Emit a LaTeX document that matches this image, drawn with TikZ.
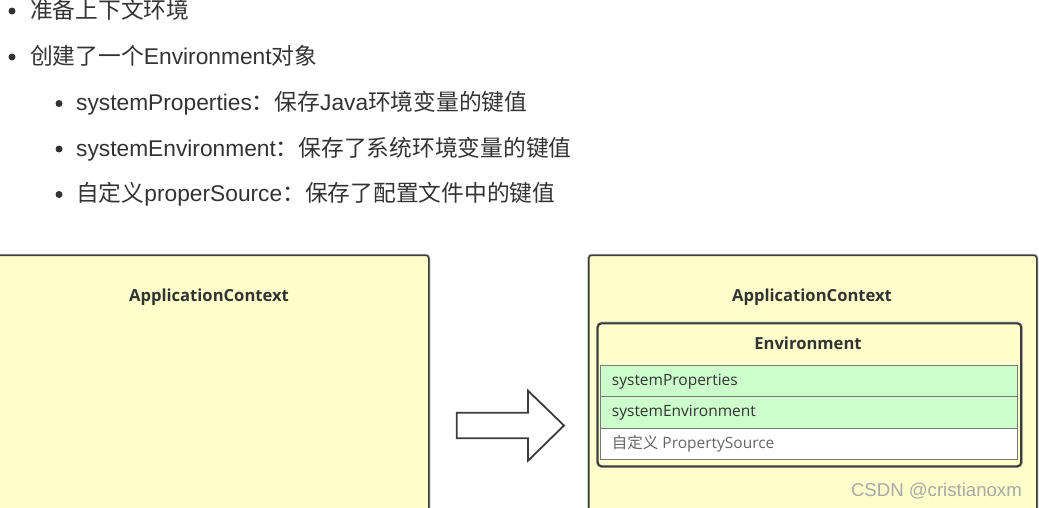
\documentclass[tikz,border=0pt]{standalone}
\usepackage{fontspec}
\setmainfont{Liberation Sans}
\newfontfamily\cjk{Noto Sans CJK SC}
\newfontfamily\dgm{Open Sans}
\usetikzlibrary{shapes.arrows}
\definecolor{txt}{HTML}{333333}
\definecolor{ctxfill}{HTML}{FFFFCC}
\definecolor{rowgreen}{HTML}{CCFFCC}
\definecolor{boxborder}{HTML}{3C3C3C}
\definecolor{rowborder}{HTML}{7A7A7A}
\definecolor{mark}{HTML}{A8A8A8}
\begin{document}
\begin{tikzpicture}[x=1pt,y=-1pt,
  btxt/.style={anchor=base west, inner sep=0pt, text=txt, font=\fontsize{22.75}{27}\selectfont},
  dot/.style={circle, fill=txt, inner sep=0pt, minimum size=7pt},
  ctxbox/.style={draw=boxborder, line width=1.5pt, fill=ctxfill, rounded corners=3pt,
     anchor=north west, inner sep=0pt, preaction={draw=black!30, line width=3pt}},
  envbox/.style={draw=boxborder, line width=2pt, fill=ctxfill, rounded corners=4pt,
     anchor=north west, inner sep=0pt, preaction={draw=black!30, line width=3.2pt}},
  titletxt/.style={anchor=base, inner sep=0pt, text=txt, font=\dgm\bfseries\fontsize{16.6}{19}\selectfont},
  rowbox/.style={draw=rowborder, line width=1pt, anchor=north west, inner sep=0pt,
     minimum width=416.5pt},
  rowtxt/.style={anchor=base west, inner sep=0pt, text=txt, font=\dgm\fontsize{15.5}{18}\selectfont},
  blockarrow/.style={draw=boxborder, line width=1.8pt, fill=white, line join=miter}
]
\useasboundingbox (0,0) rectangle (1039,507);
\clip (0,0) rectangle (1039,507);

% bullet list
\node[dot] (d1) at (12,11) {};
\node[btxt] (t1) at (30,18) {\cjk 准备上下文环境};
\node[dot] (d2) at (12,57) {};
\node[btxt] (t2) at (30,64) {{\cjk 创建了一个}Environment{\cjk 对象}};
\node[dot] (d3) at (59,103.5) {};
\node[btxt] (t3) at (76,110.5) {systemProperties{\cjk ：保存}Java{\cjk 环境变量的键值}};
\node[dot] (d4) at (59,149) {};
\node[btxt] (t4) at (76,156) {systemEnvironment{\cjk ：保存了系统环境变量的键值}};
\node[dot] (d5) at (59,194.5) {};
\node[btxt] (t5) at (76,201.5) {{\cjk 自定义}properSource{\cjk ：保存了配置文件中的键值}};

% left application context
\node[ctxbox, minimum width=438pt, minimum height=290pt] (lctx) at (-10,254.5) {};
\node[titletxt] (ltitle) at (209,301.7) {ApplicationContext};

% right application context
\node[ctxbox, minimum width=448pt, minimum height=290pt] (rctx) at (588,254.5) {};
\node[titletxt] (rtitle) at (812,301.7) {ApplicationContext};

% environment
\node[envbox, minimum width=423.5pt, minimum height=143pt] (env) at (596.7,322.3) {};
\node[titletxt] (envtitle) at (808,349.3) {Environment};
\node[rowbox, fill=rowgreen, minimum height=31pt] (r1) at (600,365) {};
\node[rowbox, fill=rowgreen, minimum height=32pt] (r2) at (600,396) {};
\node[rowbox, fill=white, minimum height=31.3pt] (r3) at (600,428) {};
\node[rowtxt] (r1t) at (611.7,385) {systemProperties};
\node[rowtxt] (r2t) at (611.7,416.7) {systemEnvironment};
\node[rowtxt, text=black!60] (r3t) at (611.7,448.3) {{\cjk 自定义} PropertySource};

% block arrow
\draw[blockarrow] (456.7,412.7) -- (528,412.7) -- (528,390.7) -- (564,425.5)
   -- (528,460.7) -- (528,438.3) -- (456.7,438.3) -- cycle;

% watermark
\node[anchor=base east, inner sep=0pt, text=mark, font=\fontsize{18.6}{21}\selectfont] (wm) at (1022,496.7) {CSDN @cristianoxm};
\end{tikzpicture}
\end{document}
